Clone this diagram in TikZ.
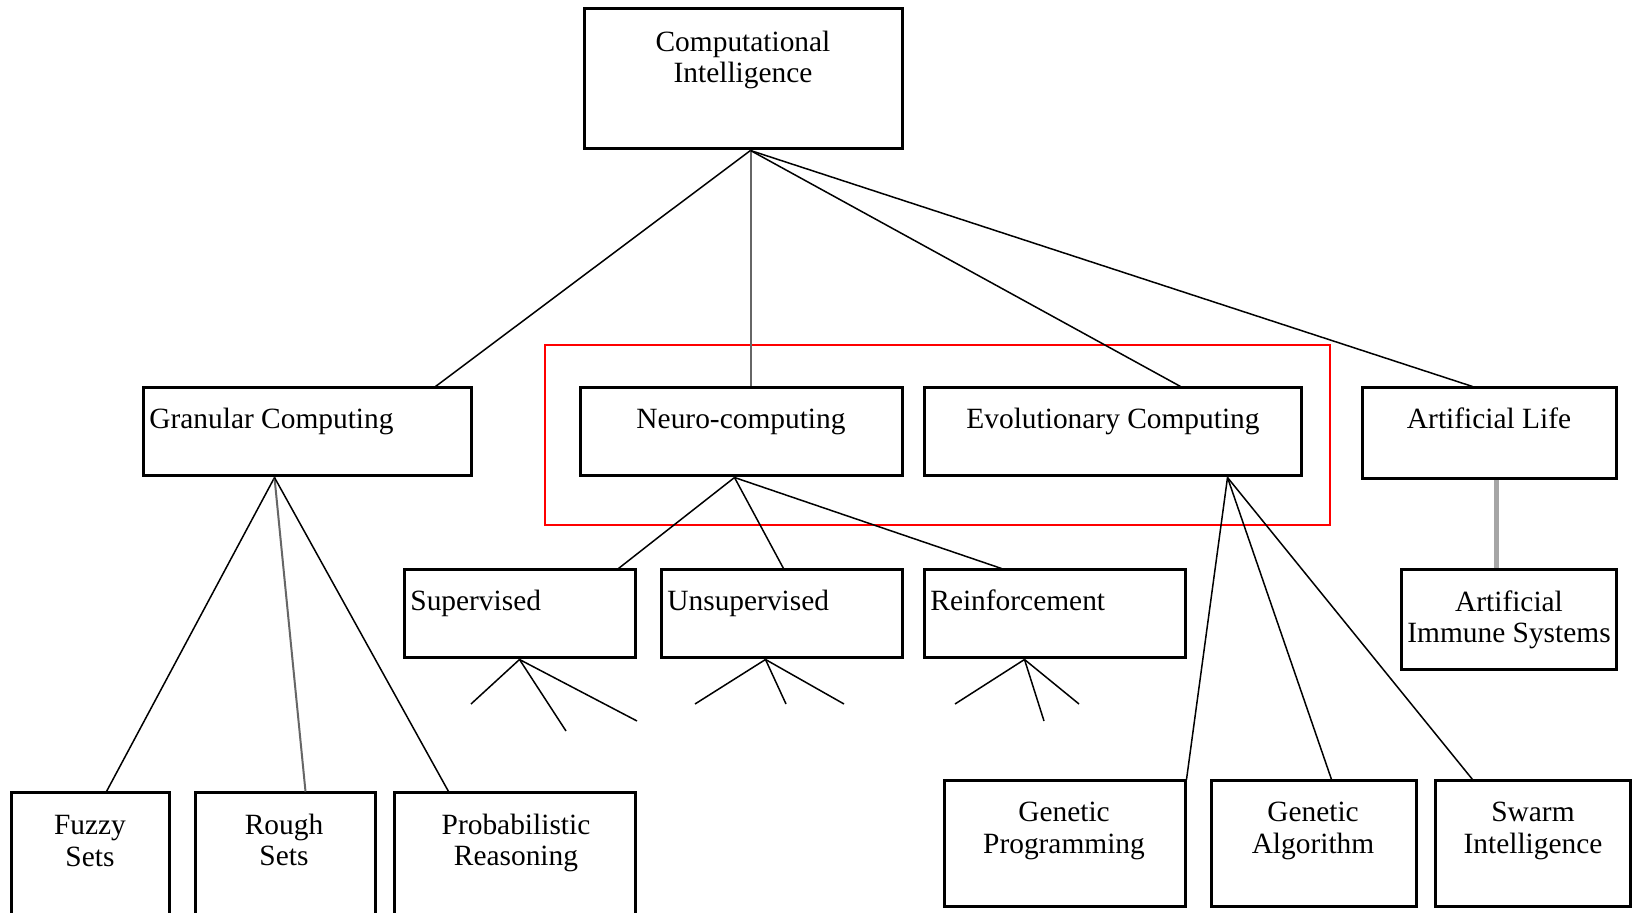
\documentclass[tikz,border=0pt]{standalone}
\usepackage{fontspec}
\setmainfont{Liberation Serif}
\usetikzlibrary{calc}
\begin{document}
\begin{tikzpicture}[x=0.5pt,y=-0.5pt,
  cbox/.style 2 args={draw, line width=1.5pt, fill=none, inner sep=0pt,
     minimum width=#1*0.5pt, minimum height=#2*0.5pt},
  txt/.style={inner sep=0pt, align=center, font=\fontsize{14.7}{15.6}\selectfont},
  conn/.style={line width=0.75pt, black},
  conngray/.style={line width=1pt, black!60},
  connlight/.style={line width=2.2pt, black!35},
  grpbox/.style={draw=red, line width=0.9pt, inner sep=0pt}]
\clip (0,0) rectangle (1633,913);
\fill[white] (0,0) rectangle (1633,913);

% group box
\node[grpbox, minimum width=392.5pt, minimum height=90pt] (grp) at (937.5,435) {};

% boxes
\node[cbox={318}{140}] (ci) at (743,79) {};
\node[cbox={328}{88}] (gran) at (307,432) {};
\node[cbox={322}{88}] (neuro) at (741,432) {};
\node[cbox={377}{88}] (evol) at (1112.5,432) {};
\node[cbox={254}{91}] (alife) at (1489,433.5) {};
\node[cbox={231}{88}] (sup) at (519.5,614) {};
\node[cbox={241}{88}] (unsup) at (781.5,614) {};
\node[cbox={261}{88}] (reinf) at (1054.5,614) {};
\node[cbox={215}{100}] (ais) at (1508.5,620) {};
\node[cbox={158}{157}] (fuzzy) at (90,871.5) {};
\node[cbox={180}{157}] (rough) at (285,871.5) {};
\node[cbox={241}{157}] (prob) at (514.5,871.5) {};
\node[cbox={241}{125}] (gp) at (1064.5,843.5) {};
\node[cbox={205}{125}] (ga) at (1313.5,843.5) {};
\node[cbox={195}{125}] (swarm) at (1532.5,843.5) {};

% texts
\node[txt] (ci-t) at (743,60) {Computational\\Intelligence};
\node[txt, anchor=base west] (gran-t) at (149,429) {Granular Computing};
\node[txt, anchor=base] (neuro-t) at (741,429) {Neuro-computing};
\node[txt, anchor=base] (evol-t) at (1113,429) {Evolutionary Computing};
\node[txt, anchor=base] (alife-t) at (1489,429) {Artificial Life};
\node[txt, anchor=base west] (sup-t) at (410,611) {Supervised};
\node[txt, anchor=base west] (unsup-t) at (667,611) {Unsupervised};
\node[txt, anchor=base west] (reinf-t) at (930,611) {Reinforcement};
\node[txt] (ais-t) at (1509,620) {Artificial\\Immune Systems};
\node[txt] (fuzzy-t) at (90,841) {Fuzzy\\Sets};
\node[txt] (rough-t) at (284,840) {Rough\\Sets};
\node[txt] (prob-t) at (516,843) {Probabilistic\\Reasoning};
\node[txt] (gp-t) at (1064,831) {Genetic\\Programming};
\node[txt] (ga-t) at (1313,831) {Genetic\\Algorithm};
\node[txt] (swarm-t) at (1533,831) {Swarm\\Intelligence};

% junction coordinates
\coordinate (ci-out) at ($(ci.south west)+(168,0)$);
\coordinate (gran-out) at ($(gran.south west)+(133,0)$);
\coordinate (neuro-out) at ($(neuro.south west)+(156,0)$);
\coordinate (evol-out) at ($(evol.south west)+(305,0)$);
\coordinate (sup-out) at ($(sup.south west)+(117,0)$);
\coordinate (unsup-out) at ($(unsup.south west)+(106,0)$);
\coordinate (reinf-out) at ($(reinf.south west)+(102,0)$);

% stub ends
\coordinate (s1) at (471,704);
\coordinate (s2) at (566,731);
\coordinate (s3) at (637,721);
\coordinate (u1) at (695,704);
\coordinate (u2) at (786,704);
\coordinate (u3) at (844,704);
\coordinate (r1) at (955,704);
\coordinate (r2) at (1044,721);
\coordinate (r3) at (1079,704);

% connectors
\draw[conn] (ci-out) -- ($(gran.north west)+(294,0)$);
\draw[conngray] (ci-out) -- ($(neuro.north west)+(172,0)$);
\draw[conn] (ci-out) -- ($(evol.north west)+(258,0)$);
\draw[conn] (ci-out) -- ($(alife.north west)+(112,0)$);

\draw[conn] (gran-out) -- ($(fuzzy.north west)+(97,0)$);
\draw[conngray] (gran-out) -- ($(rough.north west)+(112,0)$);
\draw[conn] (gran-out) -- ($(prob.north west)+(56,0)$);

\draw[conn] (neuro-out) -- ($(sup.north west)+(216,0)$);
\draw[conn] (neuro-out) -- ($(unsup.north west)+(124,0)$);
\draw[conn] (neuro-out) -- ($(reinf.north west)+(79,0)$);

\draw[conn] (sup-out) -- (s1);
\draw[conn] (sup-out) -- (s2);
\draw[conn] (sup-out) -- (s3);
\draw[conn] (unsup-out) -- (u1);
\draw[conn] (unsup-out) -- (u2);
\draw[conn] (unsup-out) -- (u3);
\draw[conn] (reinf-out) -- (r1);
\draw[conn] (reinf-out) -- (r2);
\draw[conn] (reinf-out) -- (r3);

\draw[conn] (evol-out) -- (gp.north east);
\draw[conn] (evol-out) -- ($(ga.north west)+(122,0)$);
\draw[conn] (evol-out) -- ($(swarm.north west)+(39,0)$);

\draw[connlight] ($(alife.south west)+(136,0)$) -- ($(ais.north west)+(97,0)$);
\end{tikzpicture}
\end{document}
